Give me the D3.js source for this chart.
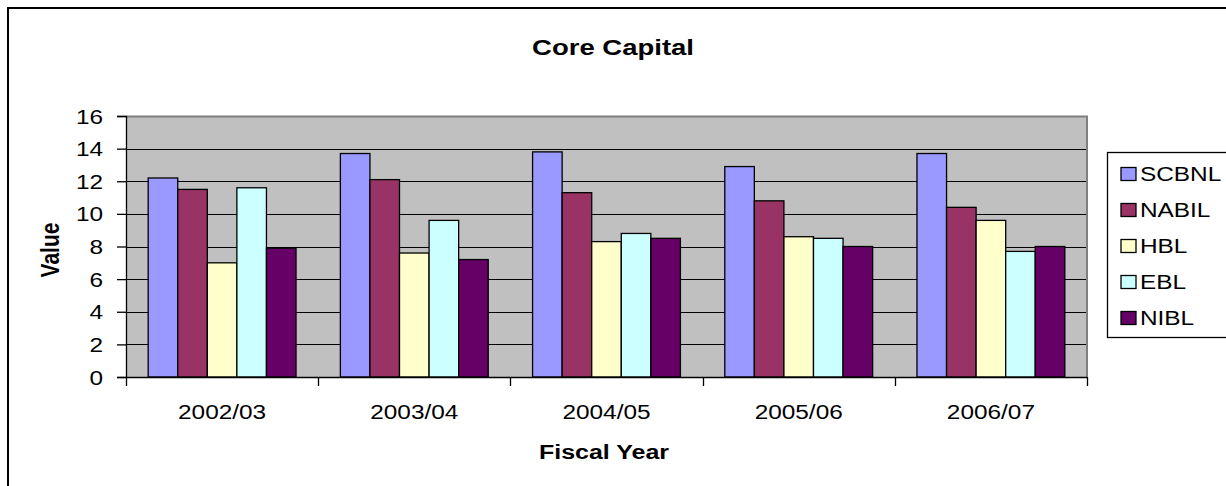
<!DOCTYPE html>
<html>
<head>
<meta charset="utf-8">
<script src="https://cdn.jsdelivr.net/npm/d3@7"></script>
<style>
  html, body { margin: 0; padding: 0; background: #fff; }
  svg { display: block; font-family: "Liberation Sans", Arial, sans-serif; }
</style>
</head>
<body>
<svg id="chart" width="1226" height="486"></svg>
<script>
// ---- data ----
const categories = ["2002/03", "2003/04", "2004/05", "2005/06", "2006/07"];
const seriesNames = ["SCBNL", "NABIL", "HBL", "EBL", "NIBL"];
const SCBNL = [12.2, 13.7, 13.8, 12.9, 13.7];
const NABIL = [11.5, 12.1, 11.3, 10.8, 10.4];
const HBL   = [7.0, 7.6, 8.3, 8.6, 9.6];
const EBL   = [11.6, 9.6, 8.8, 8.5, 7.7];
const NIBL  = [7.9, 7.2, 8.5, 8.0, 8.0];
const yTicks = [0, 2, 4, 6, 8, 10, 12, 14, 16];
const titleText = "Core Capital";
const xTitle = "Fiscal Year";
const yTitle = "Value";

(function () {
const seriesValues = [SCBNL, NABIL, HBL, EBL, NIBL];
const colors = ["#9999FF", "#993366", "#FFFFCC", "#CCFFFF", "#660066"];
const SX = 1.25; // horizontal text stretch

const svg = d3.select("#chart");

// outer chart border
svg.append("rect").attr("x", 8).attr("y", 8).attr("width", 1240).attr("height", 500)
  .attr("fill", "#fff").attr("stroke", "#000").attr("stroke-width", 2);

const pL = 126, pR = 1087, pT = 116, pB = 377;

const x = d3.scaleBand().domain(categories).range([pL, pR]).paddingInner(0).paddingOuter(0);
const xs = d3.scaleBand().domain(seriesNames).range([0, x.bandwidth()]).paddingInner(0).paddingOuter(0.75);
const y = d3.scaleLinear().domain([0, 16]).range([pB, pT]);

function stretchedText(g, tx, ty, txt, opts) {
  const t = g.append("text")
    .attr("transform", `translate(${tx},${ty}) scale(${SX},1)`)
    .attr("text-anchor", opts.anchor || "start")
    .attr("font-size", opts.size)
    .attr("font-weight", opts.weight || "normal")
    .attr("fill", "#000")
    .text(txt);
  if (opts.dy) t.attr("dy", opts.dy);
  return t;
}

// plot area background
svg.append("rect").attr("x", pL).attr("y", pT).attr("width", pR - pL).attr("height", pB - pT)
  .attr("fill", "#C0C0C0");

// gridlines
svg.append("g").selectAll("line").data(yTicks.filter(d => d > 0 && d < 16)).join("line")
  .attr("x1", pL).attr("x2", pR)
  .attr("y1", d => Math.round(y(d)) + 0.5).attr("y2", d => Math.round(y(d)) + 0.5)
  .attr("stroke", "#000").attr("stroke-width", 1.2);

// plot border (gray) top and right
svg.append("path")
  .attr("d", `M${pL},${pT + 0.5}H${pR}V${pB}`)
  .attr("fill", "none").attr("stroke", "#808080").attr("stroke-width", 2);

// bars
const bars = svg.append("g");
seriesNames.forEach((s, si) => {
  bars.selectAll(null).data(categories).join("rect")
    .attr("x", c => x(c) + xs(s))
    .attr("y", (c, i) => y(seriesValues[si][i]))
    .attr("width", xs.bandwidth())
    .attr("height", (c, i) => y(0) - y(seriesValues[si][i]))
    .attr("fill", colors[si])
    .attr("stroke", "#000").attr("stroke-width", 1.3);
});

// y axis
const yAxis = svg.append("g").attr("transform", `translate(${pL},0)`)
  .call(d3.axisLeft(y).tickValues(yTicks).tickSize(9).tickPadding(14).tickFormat(d3.format("d")));
yAxis.select(".domain").attr("stroke", "#000").attr("stroke-width", 1.3);
yAxis.selectAll(".tick line").attr("stroke", "#000").attr("stroke-width", 1.3);
yAxis.selectAll(".tick text").remove();
yAxis.selectAll(".tick").each(function(d) {
  stretchedText(d3.select(this), -23, 0, String(d), {anchor: "end", size: 19.5, dy: "0.36em"});
});

// x axis
const xAxisG = svg.append("g").attr("transform", `translate(0,${pB})`);
xAxisG.append("line").attr("x1", pL).attr("x2", pR).attr("y1", 0.5).attr("y2", 0.5)
  .attr("stroke", "#000").attr("stroke-width", 1.3);
const bounds = categories.map(c => x(c)).concat([x.range()[1]]);
xAxisG.selectAll("line.tk").data(bounds).join("line").attr("class", "tk")
  .attr("x1", d => Math.round(d) + 0.5).attr("x2", d => Math.round(d) + 0.5)
  .attr("y1", 0).attr("y2", 9).attr("stroke", "#000").attr("stroke-width", 1.3);
categories.forEach(c => {
  stretchedText(xAxisG, x(c) + x.bandwidth() / 2, 42, c, {anchor: "middle", size: 19.5});
});

// titles
stretchedText(svg, 613, 55, titleText, {anchor: "middle", size: 22, weight: "bold"});
stretchedText(svg, 604, 459, xTitle, {anchor: "middle", size: 20, weight: "bold"});
svg.append("text")
  .attr("transform", `translate(59,250) scale(${SX},1) rotate(-90)`)
  .attr("text-anchor", "middle").attr("font-size", 21).attr("font-weight", "bold")
  .text(yTitle);

// legend
const lg = svg.append("g");
lg.append("rect").attr("x", 1107.5).attr("y", 152.5).attr("width", 200).attr("height", 185)
  .attr("fill", "#fff").attr("stroke", "#000").attr("stroke-width", 1.3);
seriesNames.forEach((s, i) => {
  const cy = 174 + i * 36;
  lg.append("rect").attr("x", 1121).attr("y", cy - 6.5).attr("width", 15).attr("height", 13)
    .attr("fill", colors[i]).attr("stroke", "#000").attr("stroke-width", 1.3);
  stretchedText(lg, 1140, cy, s, {anchor: "start", size: 19.5, dy: "0.36em"});
});
})();
</script>
</body>
</html>
